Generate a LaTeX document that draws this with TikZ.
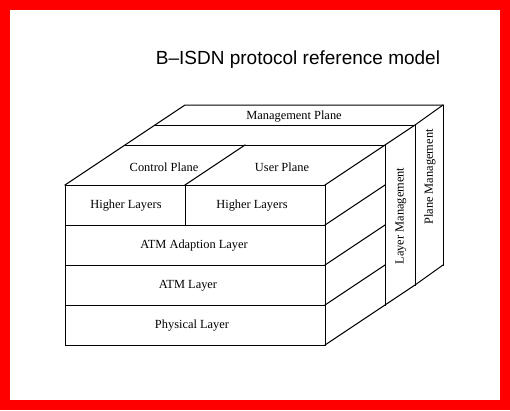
\documentclass[tikz,border=0pt]{standalone}
\usepackage{fontspec}
\setmainfont{Liberation Serif}
\newfontfamily\titlefont{Liberation Sans}
\begin{document}
\begin{tikzpicture}[x=1pt,y=-1pt,
  edge/.style={line width=1pt, line cap=rect, line join=miter},
  lbl/.style={font=\fontsize{12.4}{14}\selectfont, inner sep=0pt},
  ttl/.style={font=\titlefont\fontsize{19}{22}\selectfont, inner sep=0pt}]
\useasboundingbox (0,0) rectangle (510,410);
\fill[red] (0,0) rectangle (510,410);
\fill[white] (10,10) rectangle (500,400);
% corners
\coordinate (fTL) at (65,185);
\coordinate (fTR) at (325,185);
\coordinate (fBL) at (65,345);
\coordinate (fBR) at (325,345);
\coordinate (fM) at (185,185);
\coordinate (fM2) at (185,225);
\coordinate (r1) at (65,225);  \coordinate (r1r) at (325,225);
\coordinate (r2) at (65,265);  \coordinate (r2r) at (325,265);
\coordinate (r3) at (65,305);  \coordinate (r3r) at (325,305);
\coordinate (cTL) at (125,145); \coordinate (cTR) at (385,145);
\coordinate (cM) at (245,145);
\coordinate (lTL) at (155,125); \coordinate (lTR) at (415,125);
\coordinate (pTL) at (185,105); \coordinate (pTR) at (443,105);
\coordinate (s1) at (385,185);
\coordinate (s2) at (385,225);
\coordinate (s3) at (385,265);
\coordinate (s4) at (385,305);
\coordinate (l4) at (415,285);
\coordinate (p4) at (443,265);
% front face
\draw[edge] (fTL) rectangle (fBR);
\draw[edge] (r1) -- (r1r);
\draw[edge] (r2) -- (r2r);
\draw[edge] (r3) -- (r3r);
\draw[edge] (fM) -- (fM2);
% top face
\draw[edge] (fTL) -- (pTL) -- (pTR);
\draw[edge] (lTL) -- (lTR);
\draw[edge] (cTL) -- (cTR);
\draw[edge] (fM) -- (cM);
\draw[edge] (fTR) -- (cTR) -- (lTR) -- (pTR);
% right side
\draw[edge] (r1r) -- (s1);
\draw[edge] (r2r) -- (s2);
\draw[edge] (r3r) -- (s3);
\draw[edge] (fBR) -- (s4) -- (l4) -- (p4);
\draw[edge] (cTR) -- (s4);
\draw[edge] (lTR) -- (l4);
\draw[edge] (pTR) -- (p4);
% labels
\node[ttl, anchor=base] (title) at (298,64) {B–ISDN protocol reference model};
\node[lbl] (mp) at (294,117) {Management Plane};
\node[lbl] (cp) at (164,167) {Control Plane};
\node[lbl] (up) at (282,167) {User Plane};
\node[lbl] (hl1) at (126,206) {Higher Layers};
\node[lbl] (hl2) at (252,206) {Higher Layers};
\node[lbl] (aal) at (194,246) {ATM Adaption Layer};
\node[lbl] (atm) at (188,286) {ATM Layer};
\node[lbl] (phy) at (192,326) {Physical Layer};
\node[lbl, rotate=90] (lm) at (401,216) {Layer Management};
\node[lbl, rotate=90] (pm) at (430,177) {Plane Management};
\end{tikzpicture}
\end{document}
